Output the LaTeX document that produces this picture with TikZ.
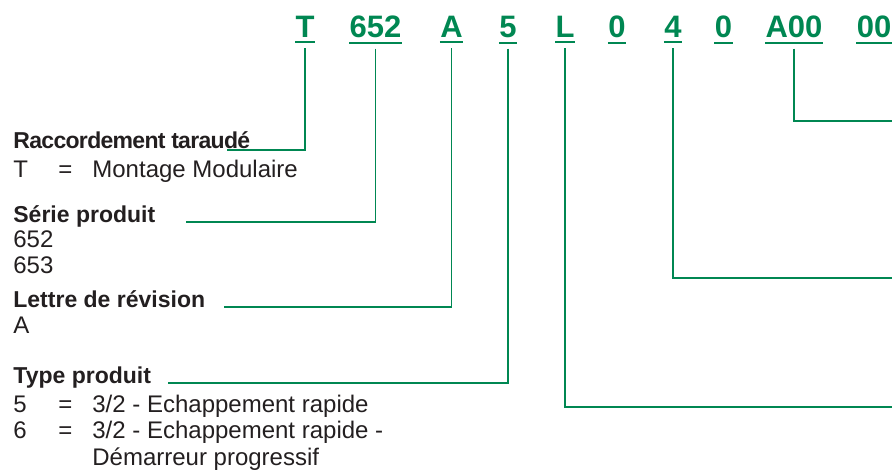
\documentclass[tikz,border=0pt]{standalone}
\usepackage{fontspec}
\setmainfont{Liberation Sans}
\usetikzlibrary{calc,positioning}
\definecolor{codegreen}{RGB}{0,135,82}
\definecolor{txtgray}{RGB}{35,31,32}
\tikzset{code/.style={anchor=base,inner xsep=0pt,inner ysep=2pt,text=codegreen,font=\fontsize{15.5}{18}\selectfont\bfseries}}
\tikzset{head/.style={anchor=base west,inner sep=0pt,text=txtgray,font=\fontsize{11.5}{13}\selectfont\bfseries}}
\tikzset{item/.style={anchor=base west,inner sep=0pt,text=txtgray,font=\fontsize{12}{13}\selectfont}}
\tikzset{lead/.style={draw=codegreen,line width=0.7pt}}
\tikzset{uline/.style={draw=codegreen,line width=1pt}}

\begin{document}
\begin{tikzpicture}[x=0.5pt,y=-0.5pt]
\useasboundingbox (0,0) rectangle (892,470);

% code
\node [code] at (305,38) (cT) {T};
\node [code] at (375.5,38) (c652) {652};
\node [code] at (451.5,38) (cA) {A};
\node [code] at (508,38) (c5) {5};
\node [code] at (565,38) (cL) {L};
\node [code] at (617,38) (c0a) {0};
\node [code] at (673,38) (c4) {4};
\node [code] at (723.5,38) (c0b) {0};
\node [code] at (794,38) (cA00) {A00};
\node [code] at (874,38) (c00) {00};
\foreach \c in {cT,c652,cA,c5,cL,c0a,c4,c0b,cA00,c00}
	\draw [uline] (\c.south west) -- (\c.south east);

% left column
\node [head] at (13,149) (hRacc) {\addfontfeature{LetterSpace=-3}Raccordement taraudé};
\node [item] at (13,177) (kT) {T};
\node [item] at (58,177) (eT) {=};
\node [item] at (92,177) (vT) {Montage Modulaire};

\node [head] at (13,222) (hSerie) {Série produit};
\node [item] at (13,247) (s652) {652};
\node [item] at (13,273) (s653) {653};

\node [head] at (13,307) (hLettre) {Lettre de révision};
\node [item] at (13,333) (rA) {A};

\node [head] at (13,383) (hType) {Type produit};
\node [item] at (13,412) (k5) {5};
\node [item] at (58,412) (e5) {=};
\node [item] at (92,412) (v5) {3/2 - Echappement rapide};
\node [item] at (13,438) (k6) {6};
\node [item] at (58,438) (e6) {=};
\node [item] at (92,438) (v6) {3/2 - Echappement rapide -};
\node [item] at (92,465) (v6b) {Démarreur progressif};

% leaders
\coordinate (lRacc) at (227,150);
\coordinate (lSerie) at (186,222);
\coordinate (lLettre) at (224,307);
\coordinate (lType) at (168,383);
\coordinate (lL) at (892,407);
\coordinate (l4) at (892,278);
\coordinate (lA00) at (892,121);

\draw [lead] ([yshift=-3pt]cT.south) |- (lRacc);
\draw [lead] ([yshift=-3pt]c652.south) |- (lSerie);
\draw [lead] ([yshift=-3pt]cA.south) |- (lLettre);
\draw [lead] ([yshift=-3pt]c5.south) |- (lType);
\draw [lead] ([yshift=-3pt]cL.south) |- (lL);
\draw [lead] ([yshift=-3pt]c4.south) |- (l4);
\draw [lead] ([yshift=-3pt]cA00.south) |- (lA00);
\end{tikzpicture}
\end{document}
